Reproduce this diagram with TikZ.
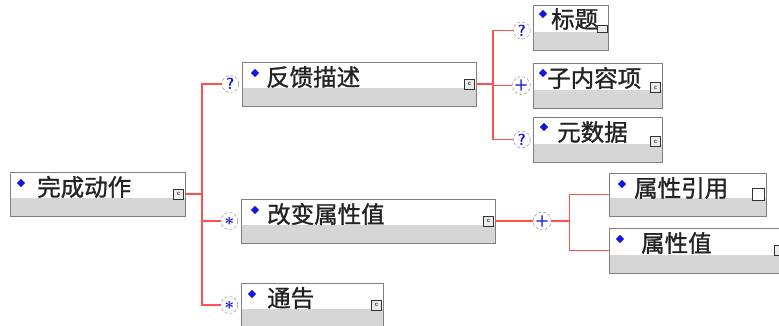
\documentclass[tikz,border=0pt]{standalone}
\usepackage{amsmath}
\usepackage{fontspec}
\newfontfamily\cjkfont[FakeBold=1.2]{Noto Sans CJK SC}
\usepackage{tikz}
\usetikzlibrary{shapes.geometric,positioning,calc}
\definecolor{xsred}{RGB}{255,80,80}
\definecolor{xsblue}{RGB}{20,20,230}
\definecolor{xsgray}{RGB}{214,214,214}
\definecolor{xsborder}{RGB}{128,128,128}
\definecolor{xstext}{RGB}{35,35,35}
\tikzstyle{elembox} = [rectangle, draw=xsborder, line width=0.9pt, anchor=north west, inner sep=0pt, outer sep=0pt, minimum height=44pt, path picture={\fill[xsgray] ([yshift=18pt]path picture bounding box.south west) rectangle (path picture bounding box.south east);}]
\tikzstyle{bullet} = [diamond, fill=xsblue, inner sep=0pt, minimum size=8.5pt]
\tikzstyle{elemtext} = [anchor=west, inner sep=0pt, text=xstext, font=\cjkfont\fontsize{23.5}{26}\selectfont]
\tikzstyle{occur} = [circle, draw=gray, densely dashed, fill=white, minimum size=17pt, inner sep=0pt, text=xsblue, font=\sffamily\bfseries\fontsize{16}{16}\selectfont]
\tikzstyle{iconbox} = [rectangle, draw=gray!40!black, fill=gray!15, minimum size=10pt, inner sep=0pt, line width=0.8pt, font=\sffamily\fontsize{7}{7}\selectfont]
\tikzstyle{conn} = [xsred, line width=1.2pt]

\begin{document}
\begin{tikzpicture}[x=1pt,y=-1pt]
\useasboundingbox (0,0) rectangle (779,326);

% element boxes
\node[elembox, minimum width=175pt] (wcdz) at (10,172) {};
\node[elembox, minimum width=234pt] (fkms) at (242,62) {};
\node[elembox, minimum width=254pt] (gbsx) at (241,199) {};
\node[elembox, minimum width=142pt] (tg) at (241,283) {};
\node[elembox, minimum width=75pt, minimum height=45pt] (bt) at (533,5) {};
\node[elembox, minimum width=129pt, minimum height=45pt] (znr) at (533,63) {};
\node[elembox, minimum width=129pt, minimum height=45pt] (ysj) at (533,117) {};
\node[elembox, minimum width=157pt, minimum height=43pt] (sxyy) at (609,173) {};
\node[elembox, minimum width=180pt, minimum height=45pt] (sxz) at (609,228) {};

% bullets and names
\node[bullet] (wcdzb) at ([shift={(11pt,-11pt)}]wcdz.north west) {};
\node[elemtext] (wcdzt) at ([shift={(27pt,-15pt)}]wcdz.north west) {完成动作};
\node[bullet] (fkmsb) at ([shift={(13pt,-11pt)}]fkms.north west) {};
\node[elemtext] (fkmst) at ([shift={(24pt,-15pt)}]fkms.north west) {反馈描述};
\node[bullet] (gbsxb) at ([shift={(14pt,-11pt)}]gbsx.north west) {};
\node[elemtext] (gbsxt) at ([shift={(26pt,-15pt)}]gbsx.north west) {改变属性值};
\node[bullet] (tgb) at ([shift={(11pt,-11pt)}]tg.north west) {};
\node[elemtext] (tgt) at ([shift={(26pt,-15pt)}]tg.north west) {通告};
\node[bullet] (btb) at ([shift={(10pt,-9pt)}]bt.north west) {};
\node[elemtext] (btt) at ([shift={(18pt,-14pt)}]bt.north west) {标题};
\node[bullet] (znrb) at ([shift={(10pt,-10pt)}]znr.north west) {};
\node[elemtext] (znrt) at ([shift={(14pt,-15pt)}]znr.north west) {子内容项};
\node[bullet] (ysjb) at ([shift={(11pt,-10pt)}]ysj.north west) {};
\node[elemtext] (ysjt) at ([shift={(24pt,-15pt)}]ysj.north west) {元数据};
\node[bullet] (sxyyb) at ([shift={(13pt,-11pt)}]sxyy.north west) {};
\node[elemtext] (sxyyt) at ([shift={(25pt,-15pt)}]sxyy.north west) {属性引用};
\node[bullet] (sxzb) at ([shift={(11pt,-11pt)}]sxz.north west) {};
\node[elemtext] (sxzt) at ([shift={(32pt,-15pt)}]sxz.north west) {属性值};

% small icons
\node[iconbox, left=1pt of wcdz.east] (wcdzi) {c};
\node[iconbox, left=1pt of fkms.east] (fkmsi) {c};
\node[iconbox, left=1pt of gbsx.east] (gbsxi) {c};
\node[iconbox, left=1pt of tg.east] (tgi) {c};
\node[iconbox, minimum width=10pt, minimum height=7pt, left=0pt of bt.east, yshift=-1pt] (bti) {};
\node[iconbox, left=1pt of znr.east, yshift=-2pt] (znri) {c};
\node[iconbox, left=1pt of ysj.east, yshift=-2pt] (ysji) {c};
\node[iconbox, fill=white, minimum size=12pt, left=1pt of sxyy.east] (sxyyi) {};
\node[iconbox, left=4pt of sxz.east] (sxzi) {};

% occurrence markers
\node[occur, left=3pt of fkms] (q1) {?};
\node[occur, left=3pt of gbsx] (q2) {$\boldsymbol{\ast}$};
\node[occur, left=3pt of tg] (q3) {$\boldsymbol{\ast}$};
\node[occur, left=2.5pt of bt, yshift=-3pt] (q4) {?};
\node[occur, left=2.5pt of znr] (q5) {+};
\node[occur, left=2.5pt of ysj] (q6) {?};
\node[occur, right=38pt of gbsx] (q7) {+};

% junctions
\coordinate[right=17pt of wcdz.east] (j1);
\coordinate[right=17pt of fkms.east] (j2);
\coordinate[right=18pt of q7] (j3);

% connectors
\draw[conn] (wcdz.east) -- (j1);
\draw[conn] (q1) -| (j1) |- (q3);
\draw[conn] (j1) |- (q2);
\draw[conn] (fkms.east) -- (j2);
\draw[conn] (q4) -| (j2) |- (q6);
\draw[conn] (j2) |- (q5);
\draw[conn] (gbsx.east) -- (q7);
\draw[conn] (q7) -- (j3);
\draw[conn] (sxyy.west) -| (j3) |- (sxz.west);
\end{tikzpicture}
\end{document}
